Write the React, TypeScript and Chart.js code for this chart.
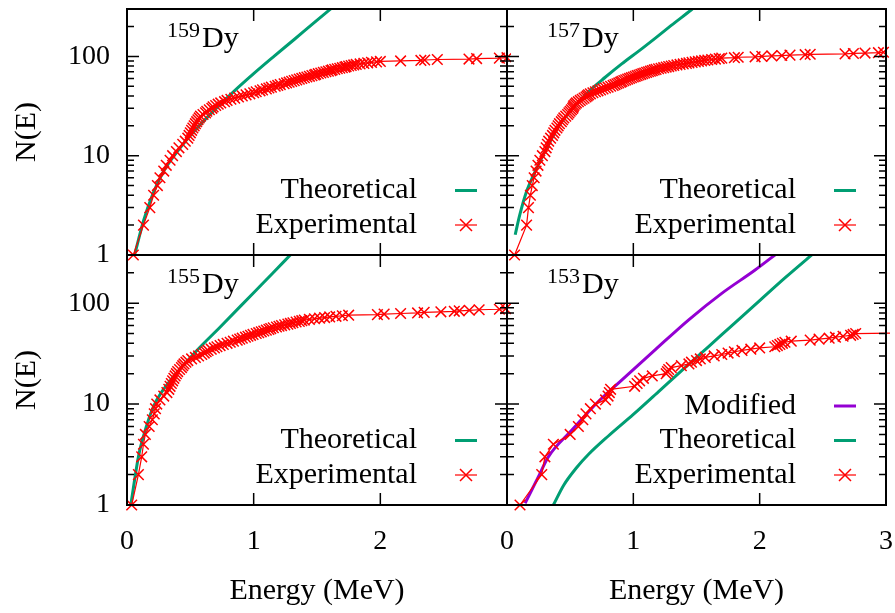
import { useEffect, useRef } from "react";
import { Chart, registerables } from "chart.js";

Chart.register(...registerables);

const SERIF = "'Liberation Serif', 'Times New Roman', Times, serif";
const GREEN = "#009e73";
const VIOLET = "#9400d3";
const RED = "#ff0000";
const W = 895;
const H = 613;

// ---- axis ticks ----
const xTickLabelsLeft = [0, 1, 2];
const xTickLabelsRight = [0, 1, 2, 3];
const xMajorTicks = [1, 2];
const yMajorTicks = [1, 10, 100];
const yMinorTicks = [2, 3, 4, 5, 6, 7, 8, 9, 20, 30, 40, 50, 60, 70, 80, 90, 200];

// ---- 159Dy ----
const dy159ExpE = [
  0.05, 0.13, 0.18, 0.21, 0.24, 0.26, 0.29, 0.31, 0.34, 0.36,
  0.39, 0.41, 0.44, 0.46, 0.48, 0.49, 0.5, 0.51, 0.52, 0.53,
  0.54, 0.55, 0.56, 0.57, 0.58, 0.6, 0.62, 0.63, 0.65, 0.67,
  0.68, 0.7, 0.72, 0.74, 0.77, 0.79, 0.82, 0.85, 0.88, 0.91,
  0.94, 0.97, 1.0, 1.02, 1.05, 1.07, 1.1, 1.12, 1.14, 1.17,
  1.19, 1.21, 1.24, 1.26, 1.28, 1.3, 1.32, 1.34, 1.36, 1.38,
  1.4, 1.42, 1.44, 1.46, 1.48, 1.49, 1.51, 1.53, 1.55, 1.57,
  1.59, 1.61, 1.62, 1.64, 1.66, 1.68, 1.7, 1.72, 1.73, 1.75,
  1.77, 1.79, 1.81, 1.84, 1.87, 1.9, 1.93, 1.97, 2.0, 2.16,
  2.32, 2.35, 2.45, 2.7, 2.76, 2.94, 3.0,
];
const dy159ExpN = [
  1, 2, 3, 4, 5, 6, 7, 8, 9, 10,
  11, 12, 13, 14, 15, 16, 17, 18, 19, 20,
  21, 22, 23, 24, 25, 26, 27, 28, 29, 30,
  31, 32, 33, 34, 35, 36, 37, 38, 39, 40,
  41, 42, 43, 44, 45, 46, 47, 48, 49, 50,
  51, 52, 53, 54, 55, 56, 57, 58, 59, 60,
  61, 62, 63, 64, 65, 66, 67, 68, 69, 70,
  71, 72, 73, 74, 75, 76, 77, 78, 79, 80,
  81, 82, 83, 84, 85, 86, 87, 88, 89, 90,
  91, 92, 93, 94, 95, 96, 97,
];
const dy159TheoE = [0.06, 0.13, 0.2, 0.29, 0.42, 0.55, 0.71, 0.84, 1.0, 1.16, 1.32, 1.48, 1.64];
const dy159TheoN = [1.0, 2.2, 4.0, 7.0, 12.0, 18.8, 30.5, 44, 67, 100, 148, 220, 325];

// ---- 157Dy ----
const dy157ExpE = [
  0.06, 0.155, 0.17, 0.185, 0.2, 0.215, 0.23, 0.245, 0.26, 0.28,
  0.3, 0.31, 0.32, 0.33, 0.345, 0.36, 0.37, 0.38, 0.395, 0.405,
  0.415, 0.43, 0.44, 0.45, 0.465, 0.48, 0.49, 0.5, 0.51, 0.52,
  0.525, 0.53, 0.54, 0.55, 0.565, 0.58, 0.595, 0.61, 0.625, 0.635,
  0.645, 0.66, 0.68, 0.7, 0.72, 0.74, 0.76, 0.78, 0.8, 0.82,
  0.84, 0.855, 0.87, 0.885, 0.9, 0.91, 0.925, 0.94, 0.955, 0.97,
  0.985, 1.0, 1.015, 1.03, 1.045, 1.06, 1.075, 1.09, 1.105, 1.12,
  1.135, 1.15, 1.165, 1.18, 1.2, 1.22, 1.24, 1.26, 1.28, 1.3,
  1.32, 1.345, 1.37, 1.395, 1.42, 1.44, 1.465, 1.49, 1.515, 1.54,
  1.565, 1.59, 1.62, 1.65, 1.68, 1.7, 1.8, 1.83, 1.964, 2.017,
  2.096, 2.175, 2.24, 2.36, 2.4, 2.676, 2.742, 2.834, 2.94, 2.98,
];
const dy157ExpN = [
  1, 2, 3, 4, 5, 6, 7, 8, 9, 10,
  11, 12, 13, 14, 15, 16, 17, 18, 19, 20,
  21, 22, 23, 24, 25, 26, 27, 28, 29, 30,
  31, 32, 33, 34, 35, 36, 37, 38, 39, 40,
  41, 42, 43, 44, 45, 46, 47, 48, 49, 50,
  51, 52, 53, 54, 55, 56, 57, 58, 59, 60,
  61, 62, 63, 64, 65, 66, 67, 68, 69, 70,
  71, 72, 73, 74, 75, 76, 77, 78, 79, 80,
  81, 82, 83, 84, 85, 86, 87, 88, 89, 90,
  91, 92, 93, 94, 95, 96, 97, 98, 99, 100,
  101, 102, 103, 104, 105, 106, 107, 108, 109, 110,
];
const dy157TheoE = [0.065, 0.1, 0.156, 0.22, 0.3, 0.406, 0.512, 0.644, 0.78, 0.908, 1.05, 1.172, 1.3, 1.46, 1.52];
const dy157TheoN = [1.6, 2.5, 4.4, 6.8, 11, 19.5, 29, 44, 62, 84, 115, 152, 205, 295, 340];

// ---- 155Dy ----
const dy155ExpE = [
  0.037, 0.09, 0.116, 0.13, 0.145, 0.175, 0.2, 0.215, 0.225, 0.235,
  0.26, 0.29, 0.315, 0.33, 0.34, 0.35, 0.36, 0.37, 0.38, 0.39,
  0.4, 0.415, 0.43, 0.44, 0.45, 0.465, 0.48, 0.51, 0.54, 0.565,
  0.59, 0.61, 0.625, 0.64, 0.665, 0.69, 0.71, 0.735, 0.76, 0.79,
  0.815, 0.84, 0.87, 0.89, 0.91, 0.935, 0.955, 0.975, 0.995, 1.02,
  1.04, 1.06, 1.08, 1.1, 1.12, 1.135, 1.155, 1.18, 1.2, 1.22,
  1.245, 1.27, 1.29, 1.31, 1.335, 1.36, 1.38, 1.4, 1.44, 1.48,
  1.52, 1.56, 1.6, 1.65, 1.7, 1.75, 1.977, 2.03, 2.16, 2.294,
  2.346, 2.478, 2.584, 2.623, 2.702, 2.78, 2.94, 2.99,
];
const dy155ExpN = [
  1, 2, 3, 4, 5, 6, 7, 8, 9, 10,
  11, 12, 13, 14, 15, 16, 17, 18, 19, 20,
  21, 22, 23, 24, 25, 26, 27, 28, 29, 30,
  31, 32, 33, 34, 35, 36, 37, 38, 39, 40,
  41, 42, 43, 44, 45, 46, 47, 48, 49, 50,
  51, 52, 53, 54, 55, 56, 57, 58, 59, 60,
  61, 62, 63, 64, 65, 66, 67, 68, 69, 70,
  71, 72, 73, 74, 75, 76, 77, 78, 79, 80,
  81, 82, 83, 84, 85, 86, 87, 88,
];
const dy155TheoE = [0.03, 0.09, 0.13, 0.208, 0.28, 0.367, 0.552, 0.736, 1.0, 1.15, 1.3];
const dy155TheoN = [1.0, 3.0, 4.8, 9.4, 13.5, 18.7, 34, 58, 127, 198, 310];

// ---- 153Dy ----
const dy153ExpE = [
  0.103, 0.275, 0.3, 0.367, 0.5, 0.565, 0.6, 0.625, 0.66, 0.7,
  0.78, 0.8, 0.81, 0.82, 1.01, 1.03, 1.05, 1.08, 1.15, 1.26,
  1.27, 1.28, 1.3, 1.38, 1.44, 1.46, 1.5, 1.53, 1.57, 1.64,
  1.7, 1.75, 1.8, 1.86, 1.93, 2.0, 2.12, 2.14, 2.16, 2.18,
  2.2, 2.25, 2.4, 2.47, 2.55, 2.6, 2.66, 2.72, 2.74, 2.76,
  3.3,
];
const dy153ExpN = [
  1, 2, 3, 4, 5, 6, 7, 8, 9, 10,
  11, 12, 13, 14, 15, 16, 17, 18, 19, 20,
  21, 22, 23, 24, 25, 26, 27, 28, 29, 30,
  31, 32, 33, 34, 35, 36, 37, 38, 39, 40,
  41, 42, 43, 44, 45, 46, 47, 48, 49, 50,
  51,
];
const dy153TheoE = [0.367, 0.45, 0.55, 0.644, 0.8, 1.0, 1.2, 1.4, 1.6, 1.8, 2.0, 2.2, 2.45];
const dy153TheoN = [1.0, 1.58, 2.34, 3.16, 4.8, 7.9, 13.3, 22.4, 37.6, 63, 106, 178, 330];
const dy153ModE = [0.143, 0.248, 0.327, 0.512, 0.723, 0.908, 1.172, 1.436, 1.7, 1.964, 2.15];
const dy153ModN = [1.04, 1.9, 3.0, 5.5, 10.6, 17.3, 34.4, 68, 125, 213, 320];

type Kind = "exp" | "theory" | "modified";
type Series = { label: string; kind: Kind; e: number[]; n: number[] };
type Panel = {
  key: string;
  mass: string;
  area: [number, number, number, number];
  yLabels: boolean;
  xLabels: number[] | null;
  series: Series[];
};

const panels: Panel[] = [
  {
    key: "159", mass: "159", area: [127, 5, 507, 255], yLabels: true, xLabels: null,
    series: [
      { label: "Theoretical", kind: "theory", e: dy159TheoE, n: dy159TheoN },
      { label: "Experimental", kind: "exp", e: dy159ExpE, n: dy159ExpN },
    ],
  },
  {
    key: "157", mass: "157", area: [507, 5, 886, 255], yLabels: false, xLabels: null,
    series: [
      { label: "Theoretical", kind: "theory", e: dy157TheoE, n: dy157TheoN },
      { label: "Experimental", kind: "exp", e: dy157ExpE, n: dy157ExpN },
    ],
  },
  {
    key: "155", mass: "155", area: [127, 255, 507, 505], yLabels: true, xLabels: xTickLabelsLeft,
    series: [
      { label: "Theoretical", kind: "theory", e: dy155TheoE, n: dy155TheoN },
      { label: "Experimental", kind: "exp", e: dy155ExpE, n: dy155ExpN },
    ],
  },
  {
    key: "153", mass: "153", area: [507, 255, 886, 505], yLabels: false, xLabels: xTickLabelsRight,
    series: [
      { label: "Modified", kind: "modified", e: dy153ModE, n: dy153ModN },
      { label: "Theoretical", kind: "theory", e: dy153TheoE, n: dy153TheoN },
      { label: "Experimental", kind: "exp", e: dy153ExpE, n: dy153ExpN },
    ],
  },
];

const colorOf = (k: Kind) => (k === "exp" ? RED : k === "theory" ? GREEN : VIOLET);

function drawCross(ctx: CanvasRenderingContext2D, x: number, y: number, h: number) {
  ctx.beginPath();
  ctx.moveTo(x - h, y - h);
  ctx.lineTo(x + h, y + h);
  ctx.moveTo(x - h, y + h);
  ctx.lineTo(x + h, y - h);
  ctx.stroke();
}

// Frame, inward ticks, isotope label and key for one panel
function panelDecor(panel: Panel) {
  return {
    id: "panelDecor",
    afterDraw(chart: any) {
      const { ctx, chartArea: a, scales } = chart;
      const xs = scales.x;
      const ys = scales.y;
      ctx.save();
      ctx.strokeStyle = "#000";
      ctx.lineWidth = 1.5;
      ctx.beginPath();
      for (const v of xMajorTicks) {
        const px = xs.getPixelForValue(v);
        ctx.moveTo(px, a.bottom);
        ctx.lineTo(px, a.bottom - 12);
        ctx.moveTo(px, a.top);
        ctx.lineTo(px, a.top + 12);
      }
      for (const v of yMajorTicks) {
        const py = ys.getPixelForValue(v);
        ctx.moveTo(a.left, py);
        ctx.lineTo(a.left + 12, py);
        ctx.moveTo(a.right, py);
        ctx.lineTo(a.right - 12, py);
      }
      for (const v of yMinorTicks) {
        const py = ys.getPixelForValue(v);
        ctx.moveTo(a.left, py);
        ctx.lineTo(a.left + 7, py);
        ctx.moveTo(a.right, py);
        ctx.lineTo(a.right - 7, py);
      }
      ctx.stroke();
      ctx.lineWidth = 2;
      ctx.strokeRect(a.left, a.top, a.right - a.left, a.bottom - a.top);

      // isotope label
      ctx.fillStyle = "#000";
      ctx.textAlign = "left";
      ctx.textBaseline = "alphabetic";
      ctx.font = `22px ${SERIF}`;
      ctx.fillText(panel.mass, a.left + 40, a.top + 28);
      ctx.font = `30px ${SERIF}`;
      ctx.fillText("Dy", a.left + 75, a.top + 38);

      // key, bottom right
      const n = panel.series.length;
      panel.series.forEach((s, i) => {
        const y = a.bottom - 30 - (n - 1 - i) * 34.5;
        ctx.fillStyle = "#000";
        ctx.textAlign = "right";
        ctx.textBaseline = "middle";
        ctx.font = `30px ${SERIF}`;
        ctx.fillText(s.label, a.right - 90, y);
        const c = colorOf(s.kind);
        ctx.strokeStyle = c;
        ctx.beginPath();
        ctx.lineWidth = s.kind === "exp" ? 1.2 : 3;
        ctx.moveTo(a.right - 52, y);
        ctx.lineTo(a.right - 30, y);
        ctx.stroke();
        if (s.kind === "exp") {
          ctx.lineWidth = 1.5;
          drawCross(ctx, a.right - 41, y, 6);
        }
      });
      ctx.restore();
    },
  };
}

function PanelChart({ panel }: { panel: Panel }) {
  const ref = useRef<HTMLCanvasElement | null>(null);
  useEffect(() => {
    const [L, T, R, B] = panel.area;
    const showX = !!panel.xLabels;
    const showY = panel.yLabels;
    const datasets = panel.series.map((s) => {
      const data = s.e.map((x, i) => ({ x, y: s.n[i] }));
      const c = colorOf(s.kind);
      if (s.kind === "exp") {
        return {
          label: s.label,
          data,
          showLine: true,
          borderColor: c,
          backgroundColor: c,
          borderWidth: 1.2,
          pointStyle: "crossRot",
          pointRadius: 7.5,
          pointHoverRadius: 7.5,
          pointBorderWidth: 1.5,
          pointBorderColor: c,
          order: 0,
          clip: { left: 10, top: 0, right: 4, bottom: 10 },
        };
      }
      return {
        label: s.label,
        data,
        showLine: true,
        borderColor: c,
        backgroundColor: c,
        borderWidth: 3,
        pointRadius: 0,
        pointHoverRadius: 0,
        cubicInterpolationMode: "monotone",
        order: s.kind === "theory" ? 1 : 2,
      };
    });

    const chart = new Chart(ref.current as HTMLCanvasElement, {
      type: "scatter",
      data: { datasets } as any,
      options: {
        responsive: false,
        animation: false,
        events: [],
        layout: {
          padding: {
            left: showY ? 0 : L,
            top: T,
            right: W - R,
            bottom: showX ? 0 : H - B,
          },
        },
        plugins: { legend: { display: false }, tooltip: { enabled: false } },
        scales: {
          x: {
            type: "linear",
            min: 0,
            max: 3,
            display: showX,
            afterFit: (s: any) => {
              if (showX) s.height = H - B;
              s.paddingLeft = 0;
              s.paddingRight = 0;
            },
            afterBuildTicks: (s: any) => {
              s.ticks = (panel.xLabels ?? []).map((v) => ({ value: v }));
            },
            grid: { display: false, drawTicks: false },
            border: { display: false },
            ticks: {
              color: "#000",
              font: { family: SERIF, size: 28 },
              padding: 20,
              maxRotation: 0,
              autoSkip: false,
              callback: (v: any) => String(v),
            },
            title: {
              display: true,
              text: "Energy (MeV)",
              color: "#000",
              font: { family: SERIF, size: 30 },
              padding: { top: 0, bottom: 4 },
            },
          },
          y: {
            type: "logarithmic",
            min: 1,
            max: 300,
            display: showY,
            afterFit: (s: any) => {
              if (showY) s.width = L;
              s.paddingTop = 0;
              s.paddingBottom = 0;
            },
            afterBuildTicks: (s: any) => {
              s.ticks = yMajorTicks.map((v) => ({ value: v }));
            },
            grid: { display: false, drawTicks: false },
            border: { display: false },
            ticks: {
              color: "#000",
              font: { family: SERIF, size: 28 },
              padding: 17,
              autoSkip: false,
              callback: (v: any) => String(v),
            },
            title: {
              display: true,
              text: "N(E)",
              color: "#000",
              font: { family: SERIF, size: 30 },
              padding: { top: 9, bottom: 0 },
            },
          },
        },
      } as any,
      plugins: [panelDecor(panel)],
    });
    return () => chart.destroy();
  }, [panel]);

  return (
    <canvas
      ref={ref}
      width={W}
      height={H}
      style={{ position: "absolute", left: 0, top: 0, width: W, height: H }}
    />
  );
}

export default function App() {
  return (
    <div
      style={{
        position: "absolute",
        left: 0,
        top: 0,
        width: W,
        height: H,
        background: "#fff",
        overflow: "hidden",
      }}
    >
      {panels.map((p) => (
        <PanelChart key={p.key} panel={p} />
      ))}
    </div>
  );
}
